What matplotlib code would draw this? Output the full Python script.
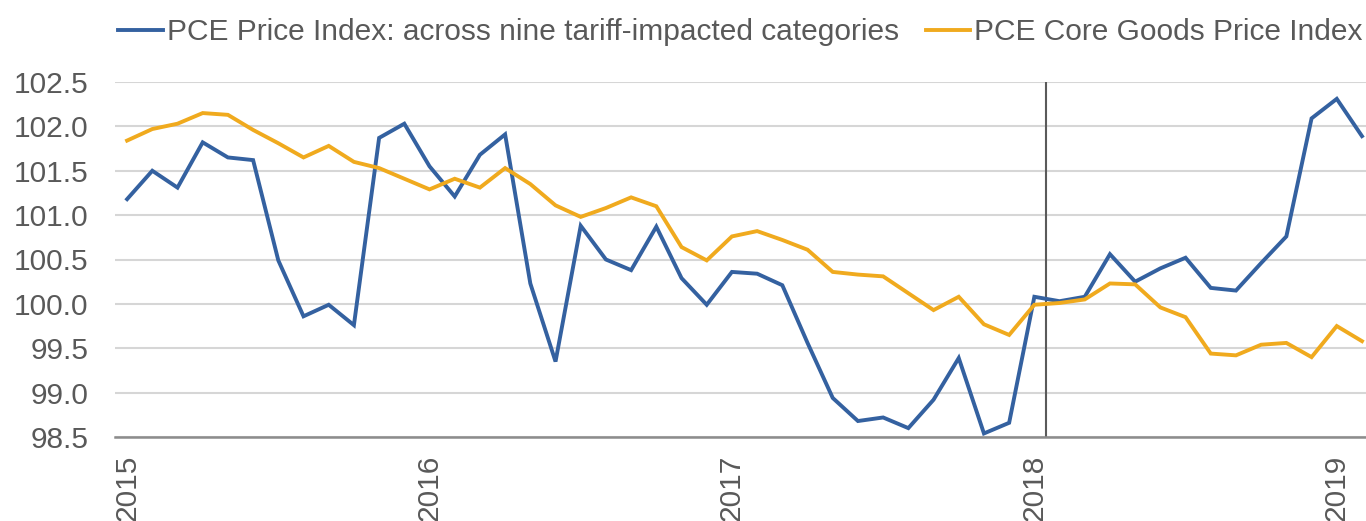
import numpy as np
import matplotlib
matplotlib.use("Agg")
import matplotlib.pyplot as plt

# monthly, Jan 2015 .. Feb 2019
tariff_idx = [
    101.18, 101.50, 101.31, 101.82, 101.65, 101.62, 100.49, 99.86, 99.99, 99.76, 101.87, 102.03,
    101.55, 101.21, 101.68, 101.91, 100.23, 99.35, 100.88, 100.50, 100.38, 100.87, 100.29, 99.99,
    100.36, 100.34, 100.21, 99.56, 98.94, 98.68, 98.72, 98.60, 98.92, 99.39, 98.54, 98.66,
    100.08, 100.03, 100.08, 100.56, 100.25, 100.40, 100.52, 100.18, 100.15, 100.46, 100.76, 102.09,
    102.31, 101.89,
]
core_goods = [
    101.84, 101.97, 102.03, 102.15, 102.13, 101.96, 101.81, 101.65, 101.78, 101.60, 101.53, 101.41,
    101.29, 101.41, 101.31, 101.53, 101.35, 101.11, 100.98, 101.08, 101.20, 101.10, 100.64, 100.49,
    100.76, 100.82, 100.72, 100.61, 100.36, 100.33, 100.31, 100.12, 99.93, 100.08, 99.77, 99.65,
    99.99, 100.01, 100.05, 100.23, 100.22, 99.96, 99.85, 99.44, 99.42, 99.54, 99.56, 99.40,
    99.75, 99.58,
]
years = ["2015", "2016", "2017", "2018", "2019"]
yticks = [98.5, 99.0, 99.5, 100.0, 100.5, 101.0, 101.5, 102.0, 102.5]

BLUE = "#3461a0"
ORANGE = "#f0aa1e"
TXT = "#595959"

plt.rcParams["font.family"] = ["Liberation Sans", "DejaVu Sans"]

fig = plt.figure(figsize=(13.66, 5.21), dpi=100)
ax = fig.add_axes([115 / 1366, 84 / 521, 1 - 115 / 1366, (437 - 82) / 521])

x = np.arange(len(tariff_idx))
ax.plot(x, tariff_idx, color=BLUE, lw=2.8, label="PCE Price Index: across nine tariff-impacted categories",
        solid_joinstyle="miter", zorder=3)
ax.plot(x, core_goods, color=ORANGE, lw=2.8, label="PCE Core Goods Price Index",
        solid_joinstyle="miter", zorder=3)

ax.axvline(36.45, color="#5a5a5a", lw=1.5, zorder=2)

ax.set_ylim(98.5, 102.5)
ax.set_xlim(-0.48, 49.16)
ax.set_yticks(yticks)
ax.set_yticklabels([f"{v:.1f}" for v in yticks])
ax.set_xticks(np.arange(0, 49, 12))
ax.set_xticklabels(years, rotation=90)
ax.tick_params(axis="both", length=0, labelsize=21.5, colors=TXT)
ax.tick_params(axis="y", pad=19)
ax.tick_params(axis="x", pad=13)

ax.grid(axis="y", color="#d6d6d6", lw=1.5)
ax.set_axisbelow(True)
for s in ["top", "right", "left"]:
    ax.spines[s].set_visible(False)
ax.spines["bottom"].set_color("#8c8c8c")
ax.spines["bottom"].set_linewidth(1.8)

leg = ax.legend(loc="center left", bbox_to_anchor=(0.0024, 1.14), ncol=2, frameon=False,
                fontsize=21.5, handlelength=1.5, handletextpad=0.13, columnspacing=0.9,
                borderaxespad=0, borderpad=0)
for t in leg.get_texts():
    t.set_color(TXT)

fig.savefig("out.png", dpi=100)
